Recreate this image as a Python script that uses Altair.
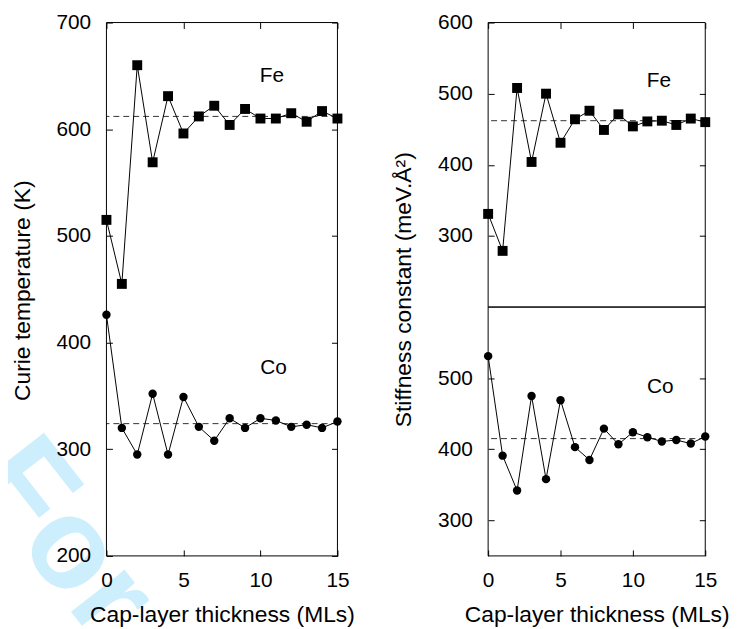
import altair as alt
import pandas as pd

# ---------------- data ----------------
ml = list(range(16))
tc_fe = [515, 455, 660, 569, 631, 596, 612, 622, 604, 619, 610, 610, 615, 607, 617, 610]
tc_co = [426, 320, 295, 352, 295, 349, 321, 308, 329, 320, 329, 327, 321, 323, 320, 326]
tc_avg = [612, 324]
d_fe = [331, 279, 508, 404, 500, 431, 464, 476, 449, 471, 454, 461, 462, 456, 465, 460]
d_co = [531, 391, 342, 475, 358, 469, 403, 385, 429, 407, 424, 417, 411, 413, 408, 418]
d_avg = [462, 415]

# panel text labels
lab_text = ["Fe", "Co"]
tc_lab_x = [10.75, 10.85]
tc_lab_y = [650, 376]
d_lab_x = [11.8, 11.9]
d_lab_y = [518, 488]

# faint watermark of the original page
watermark = ["For"]

x_ticks = [0, 5, 10, 15]
tc_ticks = [200, 300, 400, 500, 600, 700]
dfe_ticks = [300, 400, 500, 600]
dco_ticks = [300, 400, 500]

FONT = "Liberation Sans"
XS = alt.Scale(domain=[0, 15], nice=False, zero=False)


def label_axis(orient, values, title, **kw):
    return alt.Axis(orient=orient, values=values, offset=-6, tickSize=6, tickColor="black",
                    tickWidth=1, domain=False, grid=False, labels=True, labelFontSize=21,
                    labelFont=FONT, labelColor="black", labelFlush=False, labelOverlap=False,
                    title=title, titleFont=FONT, titleFontSize=23, titleFontWeight="normal",
                    titleColor="black", titleAlign="center", titleBaseline="middle",
                    zindex=2, **kw)


def tick_axis(orient, values):
    return alt.Axis(orient=orient, values=values, offset=-6, tickSize=6, tickColor="black",
                    tickWidth=1, domain=False, grid=False, labels=False, title=None, zindex=2)


def panel(series, avgs, labels, lab_x, lab_y, ys, w, h,
          xbottom=None, xtop=None, yleft=None, yright=None, extra=None):
    df_avg = pd.DataFrame({"y": avgs})
    df_lab = pd.DataFrame({"x": lab_x, "y": lab_y, "t": labels})

    def X(axis=None):
        return alt.X("x:Q", scale=XS, axis=axis)

    def Y(axis=None):
        return alt.Y("y:Q", scale=ys, axis=axis)

    layers = list(extra or [])
    layers.append(alt.Chart(df_avg).mark_rule(color="#333333", strokeWidth=1,
                                              strokeDash=[6, 4]).encode(y=Y()))
    for i, (vals, shape, size) in enumerate(series):
        df = pd.DataFrame({"x": ml, "y": vals})
        if i == 0:
            line = alt.Chart(df).mark_line(color="black", strokeWidth=1).encode(
                x=X(xbottom), y=Y(yleft))
        else:
            line = alt.Chart(df).mark_line(color="black", strokeWidth=1).encode(x=X(), y=Y())
        pts = alt.Chart(df).mark_point(shape=shape, filled=True, size=size, color="black",
                                       opacity=1).encode(x=X(), y=Y())
        layers += [line, pts]
        if i == 0:
            layers.append(alt.Chart(df).mark_point(opacity=0, size=1).encode(
                x=X(xtop), y=Y(yright)))
    layers.append(alt.Chart(df_lab).mark_text(font=FONT, fontSize=21, color="black",
                                              align="center", baseline="middle").encode(
        x=X(), y=Y(), text="t:N"))
    # plot frame
    layers.append(alt.Chart(pd.DataFrame({"f": [0]})).mark_rect(
        fillOpacity=0, stroke="black", strokeWidth=1).encode(
        x=alt.value(0), x2=alt.value(w), y=alt.value(0), y2=alt.value(h)))
    return alt.layer(*layers).resolve_axis(x="independent", y="independent").properties(
        width=w, height=h)


wm = alt.Chart(pd.DataFrame({"t": watermark})).mark_text(
    font=FONT, fontSize=130, fontWeight="bold", color="#cdeefc", angle=52,
    align="left", baseline="alphabetic").encode(
    x=alt.value(-139), y=alt.value(462), text="t:N")

# ---------------- left panel: Curie temperature ----------------
left = panel(
    [(tc_fe, "square", 100), (tc_co, "circle", 72)], tc_avg, lab_text, tc_lab_x, tc_lab_y,
    alt.Scale(domain=[200, 700], nice=False, zero=False), 233, 538,
    xbottom=label_axis("bottom", x_ticks, "Cap-layer thickness (MLs)", labelPadding=14,
                       titleX=116.5, titleY=65),
    xtop=tick_axis("top", x_ticks),
    yleft=label_axis("left", tc_ticks, "Curie temperature (K)", labelPadding=16,
                     titleX=-91, titleY=270, titleAngle=270),
    yright=tick_axis("right", tc_ticks),
    extra=[wm],
)

# ---------------- right panels: stiffness constant ----------------
top = panel(
    [(d_fe, "square", 100)], [d_avg[0]], [lab_text[0]], [d_lab_x[0]], [d_lab_y[0]],
    alt.Scale(domain=[200, 600], nice=False, zero=False), 219, 287,
    xtop=tick_axis("top", x_ticks),
    yleft=label_axis("left", dfe_ticks, "Stiffness constant (meV.Å²)", labelPadding=16,
                     titleX=-91, titleY=269, titleAngle=270),
    yright=tick_axis("right", dfe_ticks[:-1]),
)
bottom = panel(
    [(d_co, "circle", 72)], [d_avg[1]], [lab_text[1]], [d_lab_x[1]], [d_lab_y[1]],
    alt.Scale(domain=[250, 600], nice=False, zero=False), 219, 251,
    xbottom=label_axis("bottom", x_ticks, "Cap-layer thickness (MLs)", labelPadding=14,
                       titleX=109.5, titleY=65),
    yleft=label_axis("left", dco_ticks, None, labelPadding=16),
    yright=tick_axis("right", dco_ticks),
)

right = alt.vconcat(top, bottom, spacing=0, bounds="flush")

chart = alt.hconcat(left, right, spacing=152, bounds="flush").properties(
    padding={"left": -60.7, "top": 0.8, "right": 5, "bottom": 5},
    background="white",
).configure_view(strokeWidth=0)

chart.save("out.html", embed_options={"renderer": "svg", "actions": False})
